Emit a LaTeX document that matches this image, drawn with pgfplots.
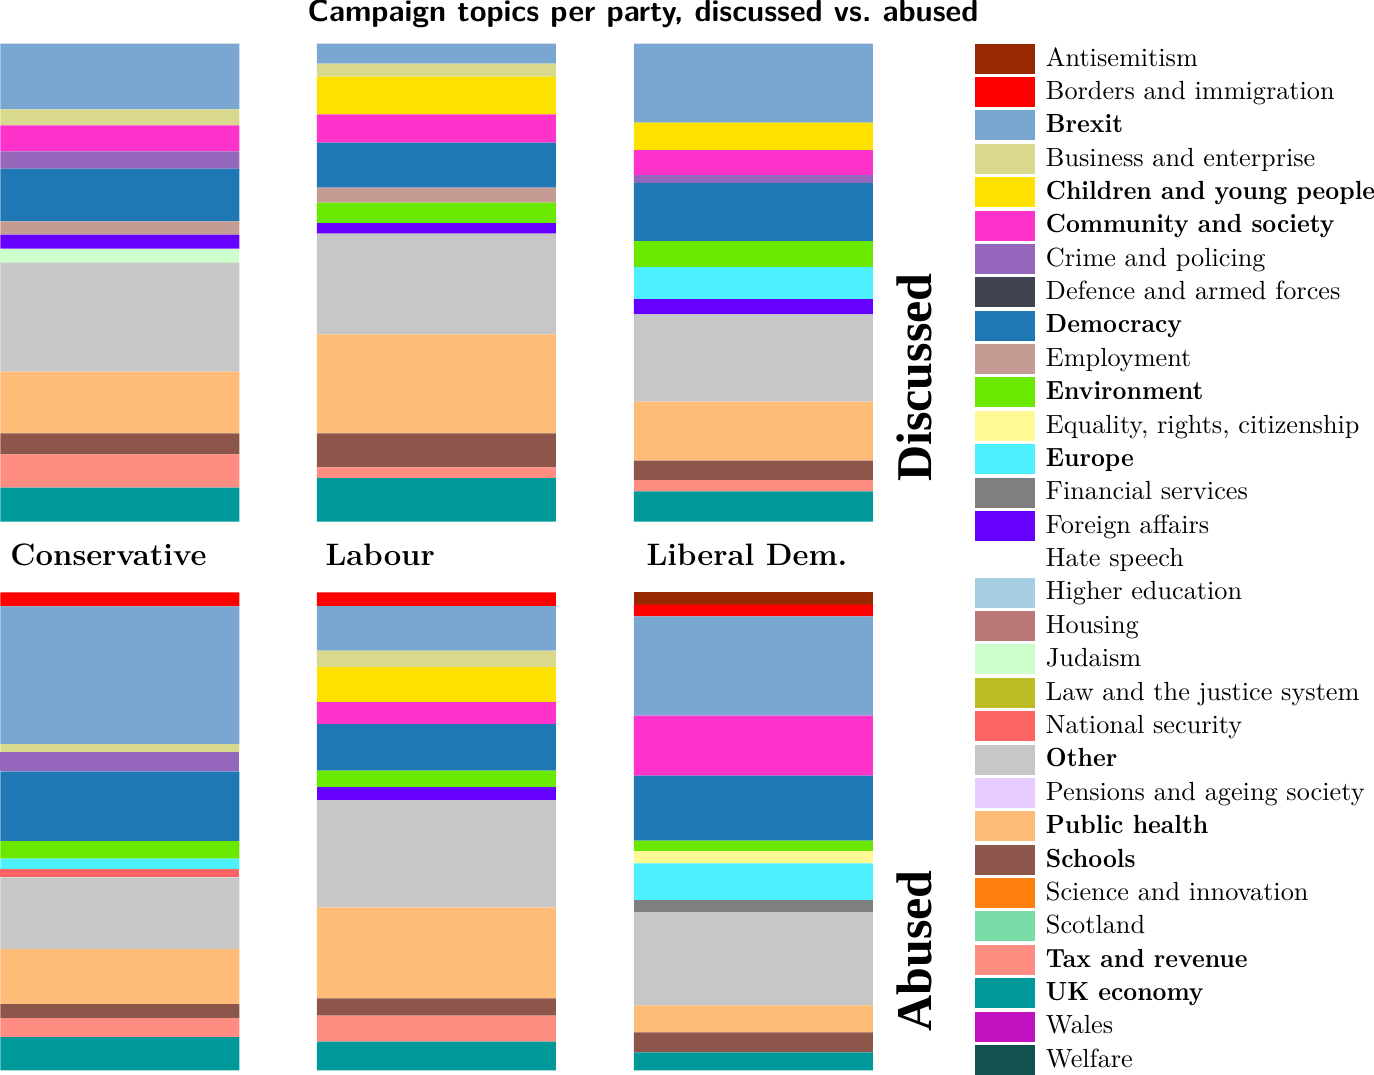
\documentclass[border=0pt]{standalone}
\usepackage{fontspec}
\usepackage{graphicx}
\usepackage{pgfplots}
\usepackage{pgfplotstable}
\pgfplotsset{compat=1.18}
\newfontfamily\timesfont{Liberation Serif}
\newcommand{\bt}[1]{\scalebox{0.92}[1]{\textbf{#1}}}

\definecolor{canti}{RGB}{152,40,0}
\definecolor{cborder}{RGB}{255,0,0}
\definecolor{cbrexit}{RGB}{122,166,210}
\definecolor{cbusiness}{RGB}{217,217,142}
\definecolor{cchildren}{RGB}{255,225,0}
\definecolor{ccommunity}{RGB}{255,51,204}
\definecolor{ccrime}{RGB}{148,103,189}
\definecolor{cdefence}{RGB}{64,67,77}
\definecolor{cdemocracy}{RGB}{31,119,180}
\definecolor{cemployment}{RGB}{196,156,148}
\definecolor{cenvironment}{RGB}{106,232,0}
\definecolor{cequality}{RGB}{255,250,150}
\definecolor{ceurope}{RGB}{77,240,255}
\definecolor{cfinancial}{RGB}{127,127,127}
\definecolor{cforeign}{RGB}{102,0,255}
\definecolor{chate}{RGB}{255,255,255}
\definecolor{chigher}{RGB}{166,206,227}
\definecolor{chousing}{RGB}{188,120,120}
\definecolor{cjudaism}{RGB}{204,255,204}
\definecolor{claw}{RGB}{188,189,34}
\definecolor{cnatsec}{RGB}{255,100,100}
\definecolor{cother}{RGB}{199,199,199}
\definecolor{cpensions}{RGB}{230,204,255}
\definecolor{cpublichealth}{RGB}{255,187,120}
\definecolor{cschools}{RGB}{140,86,75}
\definecolor{cscience}{RGB}{255,127,14}
\definecolor{cscotland}{RGB}{119,220,166}
\definecolor{ctax}{RGB}{255,140,128}
\definecolor{cukecon}{RGB}{0,153,153}
\definecolor{cwales}{RGB}{192,16,192}
\definecolor{cwelfare}{RGB}{19,80,80}

% share of each topic, one row per party (Conservative, Labour, Liberal Dem.)
\pgfplotstableread{
x anti border brexit business children community crime defence democracy employment environment equality europe financial foreign hate higher housing judaism law natsec other pensions publichealth schools science scotland tax ukecon wales welfare
120   0 0 65.7 16 0 26 17.3 0 52.7 13.3 0 0 0 0 14 0 0 0 14 0 0 109 0 61.6 21 0 0 33.4 34 0 0
436.5 0 0 20 13 37.7 28.3 0 0 45 15 20.4 0 0 0 10.6 0 0 0 0 0 0 100.7 0 99 34 0 0 10.6 43.7 0 0
753.5 0 0 79 0 27.4 25 8 0 58 0 26 0 32 0 15.3 0 0 0 0 0 0 87.3 0 59 19.3 0 0 11.4 30.3 0 0
}\discussed

\pgfplotstableread{
x anti border brexit business children community crime defence democracy employment environment equality europe financial foreign hate higher housing judaism law natsec other pensions publichealth schools science scotland tax ukecon wales welfare
120   0 14 137.7 8.3 0 0 19 0 69.7 0 17.7 0 10.6 0 0 0 0 0 0 0 8 71.7 0 55 14 0 0 19 33.3 0 0
436.5 0 13.7 44.7 16.6 34.7 22 0 0 46.7 0 16.6 0 0 0 12.7 0 0 0 0 0 0 107.3 0 91 17.4 0 0 26 28.6 0 0
753.5 12.4 11.6 99.4 0 0 60 0 0 65 0 10.6 12 37 11.7 0 0 0 0 0 0 0 93.3 0 27 20 0 0 0 18 0 0
}\abused

\pgfplotsset{
  topicbars/.style={
    ybar stacked,
    bar width=239,
    hide axis,
    scale only axis,
    width=349.2pt,
    height=191.2pt,
    xmin=0, xmax=873,
    ymin=0, ymax=478,
    enlargelimits=false,
    anchor=south west,
  },
}

\begin{document}
\begin{tikzpicture}[x=1pt,y=1pt]
\useasboundingbox (0pt,0pt) rectangle (549.6pt,-429.6pt);

\begin{axis}[
  topicbars,
  at={(0pt,-208.68pt)},
  legend image code/.code={\fill[#1] (0pt,-6pt) rectangle (24pt,6pt);},
  reverse legend,
  legend cell align=left,
  legend style={at={(1.1168,1.0)}, anchor=north west, draw=none, fill=none,
    inner sep=0pt, outer sep=0pt, row sep=1.35pt, column sep=4.4pt,
    font=\fontsize{10.5}{12}\selectfont,
    nodes={inner sep=0pt}},
  legend entries={Welfare, Wales, \bt{UK economy}, \bt{Tax and revenue},
    Scotland, Science and innovation, \bt{Schools}, \bt{Public health},
    Pensions and ageing society, \bt{Other}, National security,
    Law and the justice system, Judaism, Housing, Higher education, Hate speech,
    Foreign affairs, Financial services, \bt{Europe},
    {Equality, rights, citizenship}, \bt{Environment}, Employment,
    \bt{Democracy}, Defence and armed forces, Crime and policing,
    \bt{Community and society}, \bt{Children and young people},
    Business and enterprise, \bt{Brexit}, Borders and immigration,
    Antisemitism},
]
\pgfplotsinvokeforeach{welfare,wales,ukecon,tax,scotland,science,schools,publichealth,pensions,other,natsec,law,judaism,housing,higher,hate,foreign,financial,europe,equality,environment,employment,democracy,defence,crime,community,children,business,brexit,border,anti}{
  \addplot[fill=c#1, draw=none] table[x=x, y=#1] {\discussed};
}
\end{axis}

\begin{axis}[
  topicbars,
  at={(0pt,-428.12pt)},
]
\pgfplotsinvokeforeach{welfare,wales,ukecon,tax,scotland,science,schools,publichealth,pensions,other,natsec,law,judaism,housing,higher,hate,foreign,financial,europe,equality,environment,employment,democracy,defence,crime,community,children,business,brexit,border,anti}{
  \addplot[fill=c#1, draw=none] table[x=x, y=#1] {\abused};
}
\end{axis}

\node[anchor=base, inner sep=0pt, font=\sffamily\bfseries\fontsize{12.2}{14}\selectfont]
  at (257.2pt,-8.4pt) {Campaign topics per party, discussed vs.\ abused};

\node[anchor=base west, inner sep=0pt, font=\bfseries\fontsize{12.4}{14}\selectfont] at (4pt,-226pt) {Conservative};
\node[anchor=base west, inner sep=0pt, font=\bfseries\fontsize{12.4}{14}\selectfont] at (130pt,-226pt) {Labour};
\node[anchor=base west, inner sep=0pt, font=\bfseries\fontsize{12.4}{14}\selectfont] at (258.4pt,-226pt) {Liberal Dem.};

\node[rotate=90, anchor=base, inner sep=0pt, font=\timesfont\bfseries\fontsize{20}{24}\selectfont]
  at (372.6pt,-151pt) {Discussed};
\node[rotate=90, anchor=base, inner sep=0pt, font=\timesfont\bfseries\fontsize{20}{24}\selectfont]
  at (372.6pt,-380.4pt) {Abused};
\end{tikzpicture}
\end{document}
